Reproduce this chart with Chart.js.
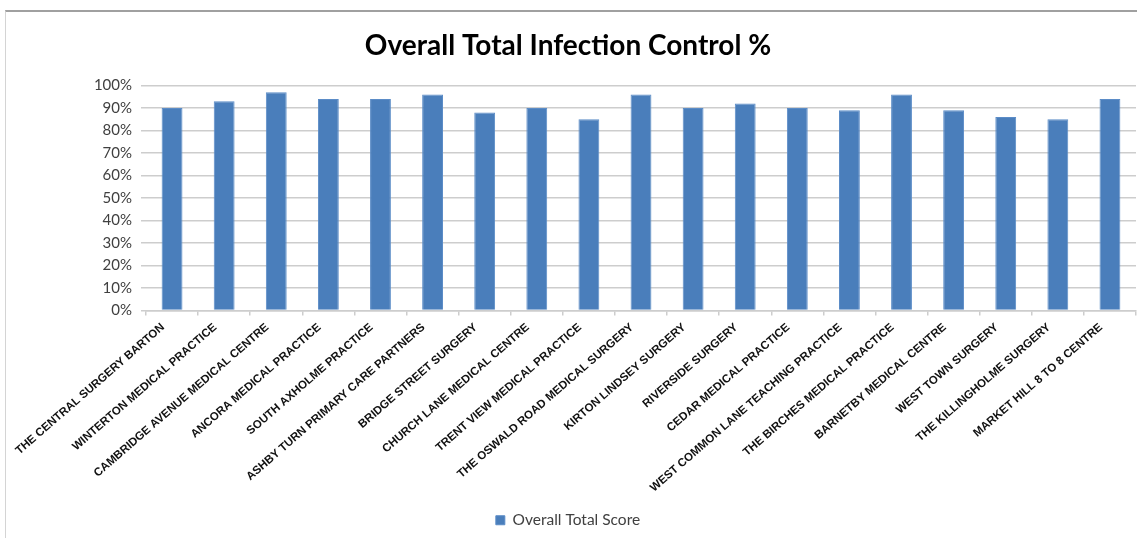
<!DOCTYPE html>
<html>
<head>
<meta charset="utf-8">
<script src="https://cdn.jsdelivr.net/npm/chart.js@4.4.1/dist/chart.umd.min.js"></script>
<style>
  html, body { margin: 0; padding: 0; background: #fff; }
  #wrap { position: relative; width: 1137px; height: 538px; }
  #frame { position: absolute; left: 5px; top: 10px; right: 0; bottom: 0;
           border-top: 2px solid #a0a0a0; border-left: 1px solid #d4d4d4; pointer-events: none; }
</style>
</head>
<body>
<div id="wrap">
  <canvas id="myChart" width="1137" height="538"></canvas>
  <div id="frame"></div>
</div>
<script>
const practices = [
  "THE CENTRAL SURGERY BARTON",
  "WINTERTON MEDICAL PRACTICE",
  "CAMBRIDGE AVENUE MEDICAL CENTRE",
  "ANCORA MEDICAL PRACTICE",
  "SOUTH AXHOLME PRACTICE",
  "ASHBY TURN PRIMARY CARE PARTNERS",
  "BRIDGE STREET SURGERY",
  "CHURCH LANE MEDICAL CENTRE",
  "TRENT VIEW MEDICAL PRACTICE",
  "THE OSWALD ROAD MEDICAL SURGERY",
  "KIRTON LINDSEY SURGERY",
  "RIVERSIDE SURGERY",
  "CEDAR MEDICAL PRACTICE",
  "WEST COMMON LANE TEACHING PRACTICE",
  "THE BIRCHES MEDICAL PRACTICE",
  "BARNETBY MEDICAL CENTRE",
  "WEST TOWN SURGERY",
  "THE KILLINGHOLME SURGERY",
  "MARKET HILL 8 TO 8 CENTRE"
]
const totalScore = [90, 93, 97, 94, 94, 96, 88, 90, 85, 96, 90, 92, 90, 89, 96, 89, 86, 85, 94]
const seriesName = "Overall Total Score"
const chartTitle = "Overall Total Infection Control %"

const ctx = document.getElementById('myChart')
const gridColor = '#cdcdcd'

let chart = new Chart(ctx, {
  type: 'bar',
  data: {
    labels: practices,
    datasets: [{
      label: seriesName,
      data: totalScore,
      backgroundColor: '#4a7ebb',
      borderColor: '#5b8cc7',
      borderWidth: 1,
      categoryPercentage: 1,
      barPercentage: 0.4
    }]
  },
  options: {
    responsive: false,
    animation: false,
    layout: { padding: { left: 0, right: 1, top: 0, bottom: 0 } },
    plugins: {
      title: {
        display: true,
        text: chartTitle,
        color: '#000',
        font: { family: 'Lato', size: 28, weight: 'bold' },
        padding: { top: 29, bottom: 23 }
      },
      legend: {
        position: 'bottom',
        labels: {
          boxWidth: 9,
          boxHeight: 9,
          padding: 4,
          color: '#404040',
          font: { family: 'Lato', size: 15.5 }
        }
      },
      tooltip: { enabled: false }
    },
    scales: {
      x: {
        offset: true,
        border: { display: true, color: gridColor, width: 1.5 },
        grid: { drawOnChartArea: false, drawTicks: true, tickLength: 5, color: gridColor, lineWidth: 1.5, offset: true },
        ticks: {
          autoSkip: false,
          minRotation: 41,
          maxRotation: 41,
          padding: 5,
          labelOffset: -9,
          color: '#111',
          font: { family: 'Liberation Sans', size: 11.5, weight: 'bold' }
        },
        afterFit: function(scale) { scale.height = 198 }
      },
      y: {
        min: 0,
        max: 100,
        border: { display: false },
        grid: { color: gridColor, lineWidth: 1.5, tickLength: 5 },
        ticks: {
          stepSize: 10,
          padding: 9,
          color: '#404040',
          font: { family: 'Lato', size: 15 },
          callback: function(v) { return v + '%' }
        },
        afterFit: function(scale) { scale.width = 146 }
      }
    }
  }
})
</script>
</body>
</html>
